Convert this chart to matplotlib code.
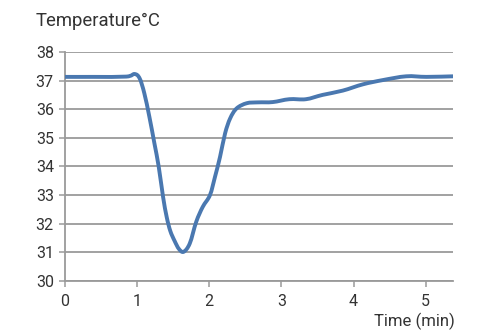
import matplotlib
matplotlib.use("Agg")
import matplotlib.pyplot as plt
import numpy as np
from matplotlib.path import Path
from matplotlib.patches import PathPatch

time_min = [0.0, 0.4, 0.85, 0.965, 1.035, 1.10, 1.17, 1.24, 1.30, 1.36, 1.41, 1.46, 1.52, 1.58, 1.645,
            1.73, 1.82, 1.91, 2.01, 2.08, 2.15, 2.22, 2.29, 2.38, 2.52, 2.68, 2.88, 3.11, 3.34, 3.57,
            3.85, 4.13, 4.41, 4.73, 5.01, 5.38]
temp_c = [37.13, 37.13, 37.14, 37.23, 37.08, 36.56, 35.74, 34.81, 33.99, 32.94, 32.24, 31.75, 31.4, 31.12, 31.02,
          31.31, 32.07, 32.59, 33.0, 33.64, 34.34, 35.16, 35.68, 36.03, 36.21, 36.24, 36.25, 36.35, 36.35, 36.5,
          36.65, 36.87, 37.02, 37.15, 37.13, 37.15]
x_ticks = [0, 1, 2, 3, 4, 5]
y_ticks = [30, 31, 32, 33, 34, 35, 36, 37, 38]

plt.rcParams['font.family'] = ['Roboto', 'DejaVu Sans']
text_color = '#333333'

fig = plt.figure(figsize=(4.81, 3.31), dpi=100)
ax = fig.add_axes([0.135, 0.151, 0.807, 0.692])

# smoothed line (Catmull-Rom as cubic Bezier segments) through the data points
P = np.column_stack([time_min, temp_c])
verts = [P[0]]
codes = [Path.MOVETO]
n = len(P)
for i in range(n - 1):
    p0 = P[i - 1] if i > 0 else P[i]
    p1 = P[i]
    p2 = P[i + 1]
    p3 = P[i + 2] if i + 2 < n else P[i + 1]
    c1 = p1 + (p2 - p0) / 6.0
    c2 = p2 - (p3 - p1) / 6.0
    verts += [c1, c2, p2]
    codes += [Path.CURVE4] * 3
patch = PathPatch(Path(verts, codes), facecolor='none', edgecolor='#4a78b0', linewidth=2.8,
                  joinstyle='round', capstyle='round', zorder=3)
ax.add_patch(patch)

ax.set_xlim(0, 5.38)
ax.set_ylim(30, 38)
ax.set_xticks(x_ticks)
ax.set_yticks(y_ticks)
ax.yaxis.grid(True, color='#9a9a9a', linewidth=1.3)
ax.set_axisbelow(True)
for s in ['top', 'right']:
    ax.spines[s].set_visible(False)
for s in ['left', 'bottom']:
    ax.spines[s].set_color('#9a9a9a')
    ax.spines[s].set_linewidth(1.3)
ax.tick_params(axis='both', colors='#9a9a9a', labelcolor=text_color, labelsize=11.5, length=4, width=1.1)
ax.tick_params(axis='x', pad=5)
ax.tick_params(axis='y', pad=4)

fig.text(36 / 481, 1 - 21 / 331, 'Temperature°C', fontsize=13.3, color=text_color, ha='left', va='center')
fig.text(455 / 481, 1 - 321 / 331, 'Time (min)', fontsize=12, color=text_color, ha='right', va='center')

fig.savefig('out.png', dpi=100)
